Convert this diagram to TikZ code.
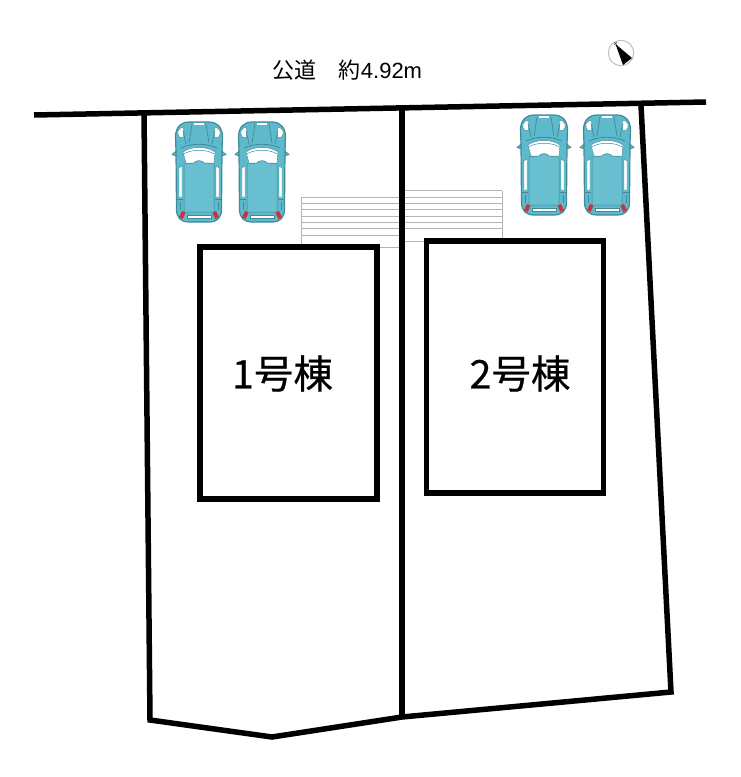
\documentclass[tikz,border=0pt]{standalone}
\usepackage{fontspec}
\setmainfont{Liberation Sans}
\newfontfamily\cjk{Noto Sans CJK JP}
\newfontfamily\cjkheavy[FakeBold=0.5]{Noto Sans CJK JP}
\definecolor{carteal}{HTML}{5DB9CB}
\definecolor{carroof}{HTML}{68BFCF}
\definecolor{carline}{HTML}{428A98}
\definecolor{carred}{HTML}{C8343C}
\definecolor{stairgray}{HTML}{B4B4B4}
\tikzset{
  boundary/.style={line width=5.5pt,line join=miter,line cap=butt},
  house/.style={draw,line width=5.5pt,minimum width=177pt,minimum height=252pt,inner sep=0pt},
  stair/.style={stairgray,line width=1pt},
  roadlabel/.style={font=\fontsize{22}{26}\selectfont,inner sep=0pt},
  houselabel/.style={font=\cjkheavy\fontsize{39.5}{46}\selectfont,inner sep=0pt},
  pics/car/.style={code={
    % mirrors
    \fill[carteal,draw=carline,line width=.7pt] (-27,32.5) -- (-23,29) -- (-19,29) -- (-19,33) -- (-24,33.5) -- cycle;
    \fill[carteal,draw=carline,line width=.7pt] (27,32.5) -- (23,29) -- (19,29) -- (19,33) -- (24,33.5) -- cycle;
    % body
    \fill[carteal,draw=carline,line width=1.2pt]
      (-10,0) .. controls (-18,0) and (-23,5) .. (-23.5,14)
      -- (-23,30) -- (-22.5,88) .. controls (-22,96) and (-18,100) .. (-10,100)
      -- (10,100) .. controls (18,100) and (22,96) .. (22.5,88) -- (23,30) -- (23.5,14)
      .. controls (23,5) and (18,0) .. (10,0) -- cycle;
    % grille
    \fill[white] (-5,1) rectangle (5,3);
    % headlights
    \fill[white,draw=carline,line width=.4pt] (-21,9) .. controls (-18,4) and (-15.5,5) .. (-15,8) -- (-15.5,15) .. controls (-18,17) and (-22,15) .. (-21,9) -- cycle;
    \fill[white,draw=carline,line width=.4pt] (21,9) .. controls (18,4) and (15.5,5) .. (15,8) -- (15.5,15) .. controls (18,17) and (22,15) .. (21,9) -- cycle;
    % hood creases
    \draw[carline,line width=.7pt] (-7,2) -- (-10,21) (7,2) -- (10,21) (-16,8) -- (-13,22) (16,8) -- (13,22);
    \draw[carline,line width=.8pt] (-18,26) .. controls (-8,21) and (8,21) .. (18,26);
    % windscreen
    \fill[white,draw=carline,line width=.4pt] (-16,30) .. controls (-8,24) and (8,24) .. (16,30) -- (15,41) -- (5,41) .. controls (3,38) and (-3,38) .. (-5,41) -- (-13,41) -- cycle;
    \draw[carline,line width=.5pt] (-15.5,32) .. controls (-7,27) and (7,27) .. (15.5,32);
    % roof
    \fill[carroof,draw=carline,line width=.5pt] (-5,41) .. controls (-3,38) and (3,38) .. (5,41) -- (15,42) -- (15,90) -- (-15,90) -- (-15,42) -- cycle;
    % side windows
    \fill[white,draw=carline,line width=.4pt] (-20,46) -- (-17,44) -- (-17,75) -- (-20,75) -- cycle;
    \fill[white,draw=carline,line width=.4pt] (20,46) -- (17,44) -- (17,75) -- (20,75) -- cycle;
    \draw[carline,line width=.6pt] (-19,80) -- (-19,88) (19,80) -- (19,88) (-22,77) -- (-16,77) (22,77) -- (16,77);
    % rear window bar
    \fill[white,draw=carline,line width=.3pt] (-12,93.5) rectangle (12,96.5);
    % tail lights
    \fill[carred,rotate around={-25:(-16.7,93)}] (-18.7,89.5) rectangle (-14.7,96.5);
    \fill[carred,rotate around={25:(16.7,93)}] (14.7,89.5) rectangle (18.7,96.5);
  }}
}
\begin{document}
\begin{tikzpicture}[x=1pt,y=-1pt]
\useasboundingbox (0,0) rectangle (740,777);
% stairs
\foreach \yy in {197,203.3,209.7,216,222.3,228.7,235} \draw[stair] (301,\yy) -- (400,\yy);
\draw[stair] (301,197) -- (301,245);
\foreach \yy in {190.7,197,203.3,209.7,216,222.3,228.7} \draw[stair] (404,\yy) -- (502,\yy);
\draw[stair] (502,190.7) -- (502,238);
\draw[stair] (377,247.5) -- (400,247.5);
\draw[stair] (404,241) -- (426,241);
% cars
\pic at (199,122) {car};
\pic at (262,122) {car};
\pic at (544,115) {car};
\pic at (607,115) {car};
% boundaries
\coordinate (roadL) at (34,115);
\coordinate (roadR) at (706,102);
\coordinate (lotTL) at (144,113);
\coordinate (lotBL) at (150,720);
\coordinate (lotBM) at (272,737);
\coordinate (lotBC) at (402,717);
\coordinate (lotTC) at (402,108);
\coordinate (lotBR) at (671,692);
\coordinate (lotTR) at (641,105);
\draw[boundary] (roadL) -- (roadR);
\draw[boundary] (lotTL) -- (lotBL) -- (lotBM) -- (lotBC) -- (lotBR) -- (lotTR);
\draw[boundary] (lotTC) -- (lotBC);
% houses
\node[house] (house1) at (288.5,373) {};
\node[house] (house2) at (515,367) {};
\node[houselabel] (label1) at (282.5,373.5) {1号棟};
\node[houselabel] (label2) at (520,373.5) {2号棟};
\node[roadlabel] (road) at (347.5,70) {{\cjk 公道}\hspace{1em}{\cjk 約}4.92m};
% compass
\draw[stairgray!85,line width=1pt] (621,53) circle (12.7);
\fill (615.5,44) -- (623,65) -- (632,58) -- cycle;
\draw[line width=.6pt,black!70] (614,42) -- (617,45) (617,42) -- (614,45);
\end{tikzpicture}
\end{document}
